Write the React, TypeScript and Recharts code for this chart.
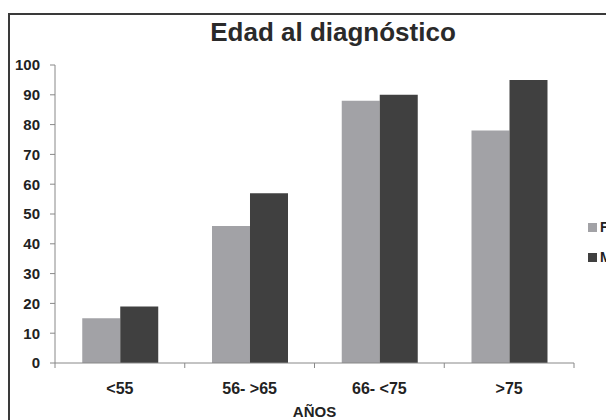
import { BarChart, Bar, XAxis, YAxis, Legend, Label } from "recharts";

const categories = ["<55", "56- >65", "66- <75", ">75"];
const femenino = [15, 46, 88, 78];
const masculino = [19, 57, 90, 95];
const yTicks = [0, 10, 20, 30, 40, 50, 60, 70, 80, 90, 100];

const data = categories.map((name, i) => ({ name, F: femenino[i], M: masculino[i] }));

const W = 606;
const H = 420;
const margin = { top: 65, right: 32, bottom: 0, left: 0 };
const yAxisW = 55;
const bandW = (W - margin.left - margin.right - yAxisW) / categories.length;
const font = "'Liberation Sans', Arial, sans-serif";

function XTick(props: any) {
  const { x, y, payload, index } = props;
  return (
    <g>
      <line x1={x - bandW / 2} x2={x - bandW / 2} y1={y} y2={y + 5} stroke="#888" />
      {index === categories.length - 1 && (
        <line x1={x + bandW / 2} x2={x + bandW / 2} y1={y} y2={y + 5} stroke="#888" />
      )}
      <text x={x} y={y + 31} textAnchor="middle" fontSize={16} fontWeight="bold" fill="#222" fontFamily={font}>
        {payload.value}
      </text>
    </g>
  );
}

function LegendBox(props: any) {
  const { payload } = props;
  return (
    <div style={{ fontFamily: font }}>
      {(payload || []).map((p: any) => (
        <div key={p.value} style={{ display: "flex", alignItems: "center", height: 30 }}>
          <span style={{ width: 9, height: 9, background: p.color, display: "inline-block", marginRight: 3 }} />
          <span style={{ fontSize: 14, fontWeight: "bold", color: "#222" }}>{p.value}</span>
        </div>
      ))}
    </div>
  );
}

export default function App() {
  return (
    <div style={{ position: "absolute", left: 0, top: 0, width: W, height: H, overflow: "hidden", background: "#fff" }}>
      <div
        style={{
          position: "absolute",
          left: 8,
          top: 13,
          width: 700,
          height: 500,
          border: "2px solid #3a3a3a",
        }}
      />
      <div
        style={{
          position: "absolute",
          left: 183,
          width: 300,
          top: 17,
          textAlign: "center",
          fontFamily: font,
          fontWeight: "bold",
          fontSize: 26,
          lineHeight: "30px",
          color: "#2a2a2a",
        }}
      >
        Edad al diagnóstico
      </div>
      <div style={{ position: "absolute", left: 0, top: 0 }}>
        <BarChart width={W} height={H} data={data} margin={margin} barCategoryGap="21%" barGap={0}>
          <XAxis
            dataKey="name"
            height={57}
            interval={0}
            tickSize={0}
            tickMargin={0}
            tickLine={false}
            axisLine={{ stroke: "#888" }}
            tick={<XTick />}
          >
            <Label
              value="AÑOS"
              position="insideBottom"
              offset={3}
              style={{ fontFamily: font, fontSize: 15, fontWeight: "bold", fill: "#222" }}
            />
          </XAxis>
          <YAxis
            width={yAxisW}
            domain={[0, 100]}
            ticks={yTicks}
            interval={0}
            tickSize={5}
            tickMargin={10}
            tickLine={{ stroke: "#888" }}
            axisLine={{ stroke: "#888" }}
            tick={{ fontFamily: font, fontSize: 15, fontWeight: "bold", fill: "#222" }}
          />
          <Legend
            layout="vertical"
            align="center"
            verticalAlign="middle"
            content={<LegendBox />}
            wrapperStyle={{ left: 588, top: 212, width: 40 }}
          />
          <Bar dataKey="F" fill="#a2a2a6" isAnimationActive={false} />
          <Bar dataKey="M" fill="#404040" isAnimationActive={false} />
        </BarChart>
      </div>
    </div>
  );
}
